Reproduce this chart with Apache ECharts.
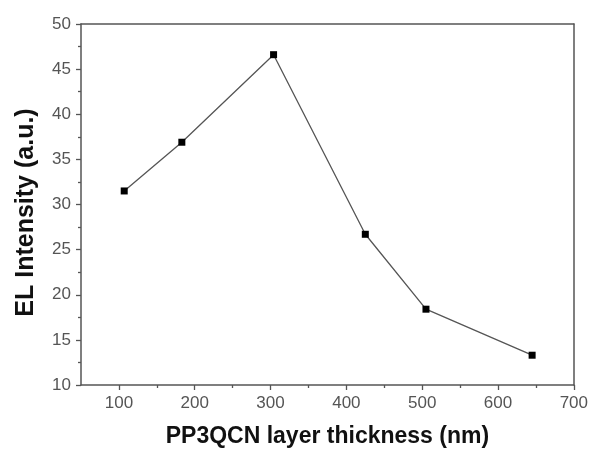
<!DOCTYPE html>
<html>
<head>
<meta charset="utf-8">
<script src="https://cdn.jsdelivr.net/npm/echarts@6/dist/echarts.min.js"></script>
<style>
  html, body { margin: 0; padding: 0; background: #fff; }
  #chart { width: 591px; height: 453px; }
</style>
</head>
<body>
<div id="chart"></div>
<script>
// data
const thickness = [107, 183, 304, 425, 505, 645]
const intensity = [31.5, 36.9, 46.6, 26.7, 18.4, 13.3]
// tick positions on the x axis
const xMajorTicks = [100, 200, 300, 400, 500, 600, 700]
const xMinorTicks = [150, 250, 350, 450, 550, 650]

const axisColor = '#555'
const font = 'Liberation Sans, Arial, sans-serif'

let chart = echarts.init(document.getElementById('chart'))
chart.setOption({
  animation: false,
  grid: { left: 81, right: 14, top: 24, bottom: 63 },
  xAxis: [
    {
      type: 'value',
      min: 50,
      max: 700,
      name: 'PP3QCN layer thickness (nm)',
      nameLocation: 'middle',
      nameGap: 40,
      nameTextStyle: { fontFamily: font, fontSize: 23, fontWeight: 'bold', color: '#111' },
      axisLine: { show: true, lineStyle: { color: axisColor, width: 1.5 } },
      axisTick: { show: true, length: 5, customValues: xMajorTicks, lineStyle: { color: axisColor, width: 1.3 } },
      axisLabel: { customValues: xMajorTicks, margin: 10, fontFamily: font, fontSize: 17, color: axisColor },
      splitLine: { show: false },
    },
    {
      // short minor ticks, same scale, bottom side
      type: 'value',
      min: 50,
      max: 700,
      position: 'bottom',
      axisLine: { show: false },
      axisTick: { show: true, length: 3, customValues: xMinorTicks, lineStyle: { color: axisColor, width: 1.3 } },
      axisLabel: { show: false },
      splitLine: { show: false },
    },
    {
      // top frame
      type: 'value',
      min: 50,
      max: 700,
      position: 'top',
      axisLine: { show: true, onZero: false, lineStyle: { color: axisColor, width: 1.5 } },
      axisTick: { show: false },
      axisLabel: { show: false },
      splitLine: { show: false },
    },
  ],
  yAxis: [
    {
      type: 'value',
      min: 10,
      max: 50,
      interval: 5,
      name: 'EL Intensity (a.u.)',
      nameLocation: 'middle',
      nameGap: 42,
      nameTextStyle: { fontFamily: font, fontSize: 25, fontWeight: 'bold', color: '#111', padding: [0, 16, 0, 0] },
      axisLine: { show: true, lineStyle: { color: axisColor, width: 1.5 } },
      axisTick: { show: true, length: 5, lineStyle: { color: axisColor, width: 1.3 } },
      minorTick: { show: true, splitNumber: 2, length: 3, lineStyle: { color: axisColor, width: 1.3 } },
      axisLabel: { margin: 10, fontFamily: font, fontSize: 17, color: axisColor },
      splitLine: { show: false },
    },
    {
      // right frame
      type: 'value',
      min: 10,
      max: 50,
      position: 'right',
      axisLine: { show: true, onZero: false, lineStyle: { color: axisColor, width: 1.5 } },
      axisTick: { show: false },
      axisLabel: { show: false },
      splitLine: { show: false },
    },
  ],
  series: [
    {
      type: 'line',
      data: thickness.map((x, i) => [x, intensity[i]]),
      symbol: 'rect',
      symbolSize: 7,
      itemStyle: { color: '#000' },
      lineStyle: { color: '#555', width: 1.3 },
    },
  ],
})
</script>
</body>
</html>
